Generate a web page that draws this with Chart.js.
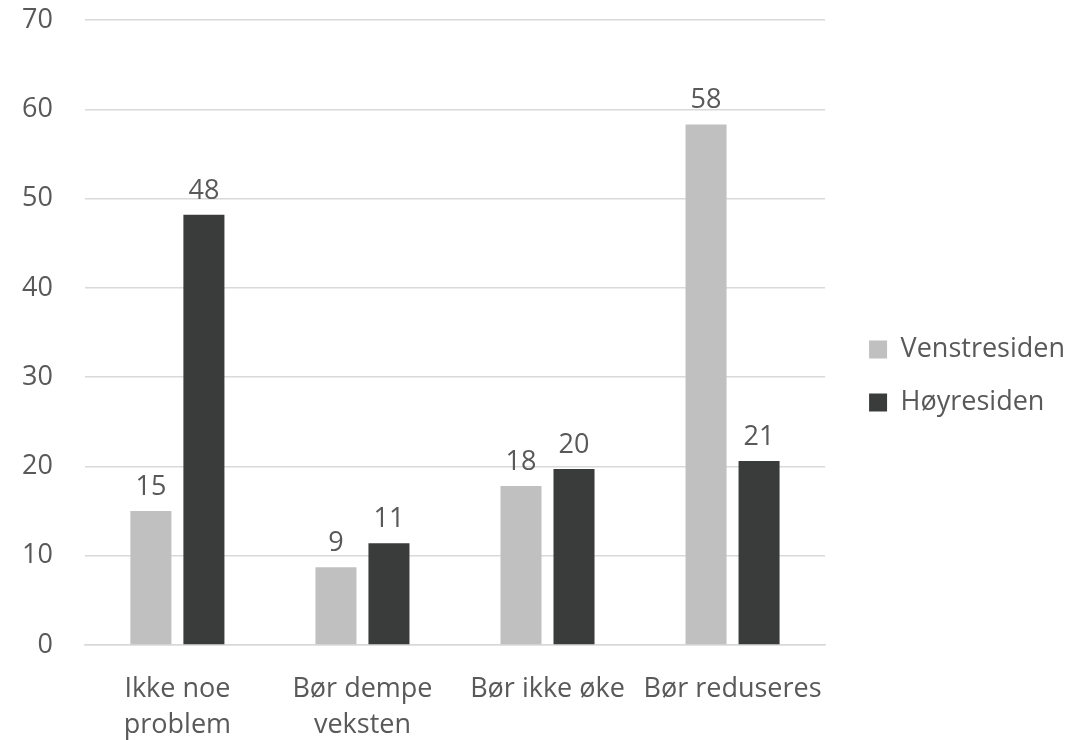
<!DOCTYPE html>
<html>
<head>
<meta charset="utf-8">
<script src="https://cdn.jsdelivr.net/npm/chart.js@4/dist/chart.umd.min.js"></script>
<style>
  html, body { margin: 0; padding: 0; background: #fff; }
  #wrap { width: 1089px; height: 740px; }
</style>
</head>
<body>
<div id="wrap"><canvas id="chart" width="1089" height="740"></canvas></div>
<script>
const categories = [['Ikke noe', 'problem'], ['Bør dempe', 'veksten'], 'Bør ikke øke', 'Bør reduseres'];
const venstre = [15.0, 8.7, 17.8, 58.3];
const hoyre = [48.2, 11.4, 19.7, 20.6];
const seriesNames = ['Venstresiden', 'Høyresiden'];
const yTicks = [0, 10, 20, 30, 40, 50, 60, 70];

const textColor = '#595959';
const fontFamily = '"Open Sans", "Liberation Sans", sans-serif';
const fontSize = 27;

// draw rounded values above each bar
const valueLabels = {
    id: 'valueLabels',
    afterDatasetsDraw(chart) {
        const ctx = chart.ctx;
        ctx.save();
        ctx.fillStyle = textColor;
        ctx.font = fontSize + 'px ' + fontFamily;
        ctx.textAlign = 'center';
        ctx.textBaseline = 'alphabetic';
        chart.data.datasets.forEach((ds, i) => {
            chart.getDatasetMeta(i).data.forEach((bar, j) => {
                ctx.fillText(Math.round(ds.data[j]), bar.x, bar.y - 16);
            });
        });
        ctx.restore();
    }
};

// leave a bit more room between plot and legend, lift it slightly
const legendGap = {
    id: 'legendGap',
    afterLayout(chart) {
        const lg = chart.legend;
        lg.left += 18;
        lg.right += 18;
        lg.top -= 4;
        lg.bottom -= 4;
    }
};

new Chart(document.getElementById('chart'), {
    type: 'bar',
    data: {
        labels: categories,
        datasets: [
            { label: seriesNames[0], data: venstre, backgroundColor: '#bfc0bf' },
            { label: seriesNames[1], data: hoyre, backgroundColor: '#3a3c3b' }
        ]
    },
    options: {
        responsive: false,
        animation: false,
        devicePixelRatio: 1,
        datasets: { bar: { categoryPercentage: 0.573, barPercentage: 0.774 } },
        layout: { padding: { top: 20, right: 32, bottom: 0, left: 22 } },
        plugins: {
            legend: {
                position: 'right',
                labels: {
                    color: textColor,
                    font: { family: fontFamily, size: fontSize },
                    boxWidth: 18,
                    boxHeight: 18,
                    padding: 26
                }
            },
            tooltip: { enabled: false }
        },
        scales: {
            x: {
                grid: { display: false },
                border: { color: '#d9d9d9', width: 1.5 },
                ticks: {
                    color: textColor,
                    font: { family: fontFamily, size: fontSize, lineHeight: 1.35 },
                    padding: 18,
                    maxRotation: 0
                },
                afterFit: (s) => { s.height = 95; }
            },
            y: {
                min: 0,
                max: 70,
                afterBuildTicks: (axis) => { axis.ticks = yTicks.map(v => ({ value: v })); },
                grid: { color: '#d9d9d9', lineWidth: 1.5, tickLength: 32, tickColor: 'rgba(0,0,0,0)' },
                border: { display: false },
                ticks: {
                    color: textColor,
                    font: { family: fontFamily, size: fontSize },
                    padding: 0
                }
            }
        }
    },
    plugins: [valueLabels, legendGap]
});
</script>
</body>
</html>
